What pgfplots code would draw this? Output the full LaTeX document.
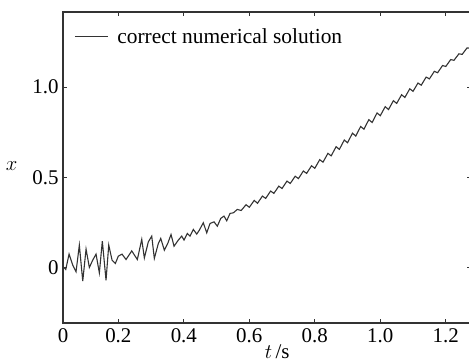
\documentclass[border=0pt]{standalone}
\usepackage{fontspec}
\setmainfont{Liberation Serif}
\usepackage{pgfplots}
\pgfplotsset{compat=1.18}
\begin{document}
\begin{tikzpicture}[x=1bp,y=1bp]
\path[use as bounding box] (0,0) rectangle (469,363);
\begin{axis}[
  at={(63bp,40bp)}, anchor=south west,
  scale only axis, width=408bp, height=311bp,
  xmin=0.031, xmax=1.277, ymin=-0.308, ymax=1.417,
  enlargelimits=false, clip=true,
  font=\fontsize{21}{25}\selectfont,
  /pgf/number format/assume math mode=true,
  axis line style={black!80, line width=1.2bp},
  every tick/.style={black!80, line width=0.8bp},
  major tick length=4bp,
  tick align=inside,
  xtick={0.031,0.2,0.4,0.6,0.8,1.0,1.2},
  xticklabels={0,0.2,0.4,0.6,0.8,1.0,1.2},
  ytick={0,0.5,1.0},
  yticklabels={0,0.5,1.0},
  xticklabel style={yshift=-2bp},
  yticklabel style={xshift=-1bp},
  xlabel={$t$\,/s},
  ylabel={$x$},
  xlabel style={at={(axis description cs:0.525,-0.115)}, anchor=base},
  ylabel style={at={(axis description cs:-0.126,0.505)}, anchor=center, rotate=-90},
  legend style={draw=none, fill=none, at={(0.027,0.955)}, anchor=north west,
    inner sep=0pt, font=\fontsize{21.5}{25}\selectfont},
  legend cell align=left,
  legend image code/.code={\draw[#1] (0bp,0bp) -- (33bp,0bp); \path (40bp,0bp);},
]
\addplot[black!80, line width=1.1bp] coordinates {
(0.0321,0.003) (0.0394,-0.011) (0.0495,0.074) (0.0608,0.013) (0.0708,-0.024)
(0.0809,0.124) (0.0913,-0.076) (0.1014,0.102) (0.1115,0.000) (0.1218,0.041)
(0.1319,0.074) (0.1420,-0.030) (0.1511,0.146) (0.1624,-0.071) (0.1707,0.124)
(0.1808,0.041) (0.1908,0.022) (0.2000,0.063) (0.2113,0.074) (0.2235,0.044)
(0.2409,0.092) (0.2580,0.044) (0.2715,0.156) (0.2794,0.053) (0.2916,0.142)
(0.3020,0.174) (0.3099,0.050) (0.3221,0.133) (0.3295,0.161) (0.3405,0.096)
(0.3508,0.133) (0.3609,0.183) (0.3701,0.118) (0.3832,0.152) (0.3936,0.174)
(0.4006,0.152) (0.4107,0.189) (0.4189,0.174) (0.4290,0.211) (0.4394,0.185)
(0.4473,0.207) (0.4595,0.248) (0.4699,0.192) (0.4800,0.244) (0.4922,0.253)
(0.5023,0.229) (0.5127,0.272) (0.5227,0.285) (0.5310,0.259) (0.5411,0.300)
(0.5511,0.303) (0.5634,0.322)
(0.575,0.316) (0.590,0.348) (0.600,0.334) (0.615,0.372) (0.625,0.356)
(0.640,0.396) (0.650,0.383) (0.665,0.424) (0.675,0.411) (0.690,0.451)
(0.700,0.438) (0.715,0.479) (0.725,0.466) (0.740,0.506) (0.750,0.493)
(0.765,0.535) (0.775,0.522) (0.790,0.564) (0.800,0.550) (0.815,0.598)
(0.825,0.584) (0.840,0.633) (0.850,0.619) (0.865,0.670) (0.875,0.655)
(0.890,0.707) (0.900,0.692) (0.915,0.745) (0.925,0.729) (0.940,0.782)
(0.950,0.767) (0.965,0.820) (0.975,0.804) (0.990,0.857) (1.000,0.842)
(1.015,0.892) (1.025,0.876) (1.040,0.925) (1.050,0.910) (1.065,0.958)
(1.075,0.943) (1.090,0.991) (1.100,0.977) (1.115,1.023) (1.125,1.011)
(1.140,1.056) (1.150,1.046) (1.165,1.088) (1.175,1.080) (1.190,1.120)
(1.200,1.115) (1.215,1.153) (1.225,1.149) (1.240,1.185) (1.250,1.182)
(1.265,1.218) (1.275,1.216) (1.277,1.221)
};
\addlegendentry{correct\ numerical\ solution}
\end{axis}
\end{tikzpicture}
\end{document}
